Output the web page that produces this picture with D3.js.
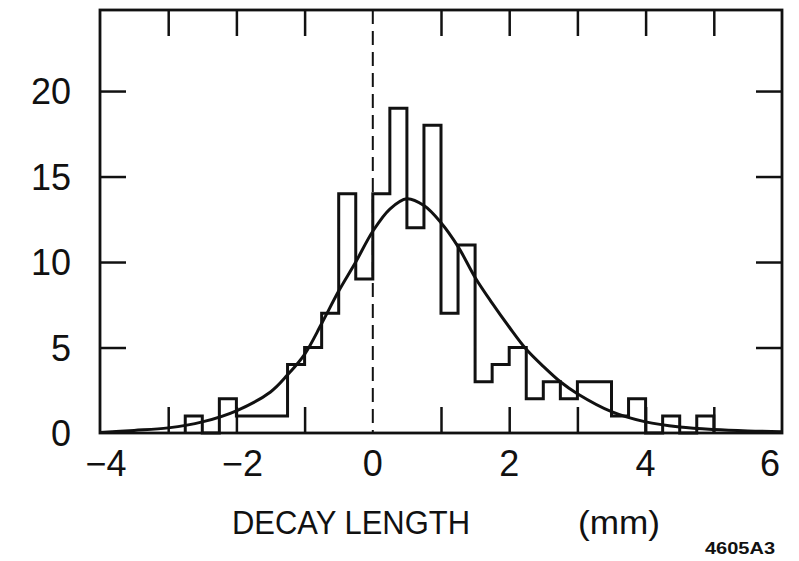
<!DOCTYPE html>
<html>
<head>
<meta charset="utf-8">
<script src="https://cdn.jsdelivr.net/npm/d3@7"></script>
<style>
  body { margin: 0; background: #fff; }
  svg { display: block; }
  text { font-family: "Liberation Sans", Arial, sans-serif; fill: #111; }
</style>
</head>
<body>
<div id="chart"></div>
<script>
// histogram bins (left edge, mm) and counts, bin width 0.25
var binLeft = [-2.75, -2.5, -2.25, -2.0, -1.75, -1.5, -1.25, -1.0, -0.75, -0.5, -0.25,
               0.0, 0.25, 0.5, 0.75, 1.0, 1.25, 1.5, 1.75, 2.0, 2.25, 2.5, 2.75,
               3.0, 3.25, 3.5, 3.75, 4.0, 4.25, 4.5, 4.75]
var counts = [1, 0, 2, 1, 1, 1, 4, 5, 7, 14, 9,
              14, 19, 12, 18, 7, 11, 3, 4, 5, 2, 3, 2,
              3, 3, 1, 2, 0, 1, 0, 1]
var binWidth = 0.25

// fitted curve
var fitX = [-4, -3.5, -3, -2.5, -2, -1.5, -1.25, -1, -0.75, -0.5, -0.25, 0, 0.25, 0.5,
            0.75, 1, 1.25, 1.5, 1.75, 2, 2.25, 2.5, 2.75, 3, 3.5, 4, 4.5, 5, 5.5, 6]
var fitY = [0.03, 0.15, 0.3, 0.65, 1.3, 2.4, 3.4, 4.6, 6.4, 8.3, 10.0, 11.8, 13.1, 13.7,
            13.3, 12.3, 10.9, 9.1, 7.6, 6.2, 4.9, 3.9, 3.0, 2.3, 1.25, 0.65, 0.35, 0.2, 0.12, 0.08]

var xTicks = [-4, -2, 0, 2, 4, 6]
var xMinor = [-3, -2, -1, 1, 2, 3, 4, 5]
var yTicks = [0, 5, 10, 15, 20]

var width = 799, height = 561
var pLeft = 100, pRight = 782, pTop = 10, pBottom = 433

var svg = d3.select(`#chart`).append(`svg`)
    .attr(`width`, width)
    .attr(`height`, height)

var x = d3.scaleLinear().domain([-4, 6]).range([pLeft, pRight])
var y = d3.scaleLinear().domain([0, 24.74]).range([pBottom, pTop])

// inward ticks on all four sides
svg.append(`g`).attr(`transform`, `translate(0,${pBottom})`)
    .call(d3.axisBottom(x).tickValues(xMinor).tickSize(-26).tickFormat(``))
svg.append(`g`).attr(`transform`, `translate(0,${pTop})`)
    .call(d3.axisTop(x).tickValues(xMinor).tickSize(-26).tickFormat(``))
svg.append(`g`).attr(`transform`, `translate(${pLeft},0)`)
    .call(d3.axisLeft(y).tickValues([5, 10, 15, 20]).tickSize(-26).tickFormat(``))
svg.append(`g`).attr(`transform`, `translate(${pRight},0)`)
    .call(d3.axisRight(y).tickValues([5, 10, 15, 20]).tickSize(-26).tickFormat(``))
svg.selectAll(`.domain`).remove()
svg.selectAll(`.tick line`).attr(`stroke`, `#111`).attr(`stroke-width`, 2.5)

// frame
svg.append(`rect`)
    .attr(`x`, pLeft).attr(`y`, pTop)
    .attr(`width`, pRight - pLeft).attr(`height`, pBottom - pTop)
    .attr(`fill`, `none`).attr(`stroke`, `#111`).attr(`stroke-width`, 2.8)

// tick labels
svg.append(`g`).selectAll(`text`).data(xTicks).enter().append(`text`)
    .attr(`x`, function(d){ return x(d) + (d === 6 ? -12 : (d < 0 ? 6 : 0)) })
    .attr(`y`, 476)
    .attr(`text-anchor`, `middle`)
    .attr(`font-size`, 36)
    .text(function(d){ return d < 0 ? `\u2212` + Math.abs(d) : d })

svg.append(`g`).selectAll(`text`).data(yTicks).enter().append(`text`)
    .attr(`x`, 71)
    .attr(`y`, function(d){ return y(d) + 13 })
    .attr(`text-anchor`, `end`)
    .attr(`font-size`, 36)
    .text(function(d){ return d })

// dashed line at zero
svg.append(`line`)
    .attr(`x1`, x(0)).attr(`x2`, x(0))
    .attr(`y1`, pTop).attr(`y2`, pBottom)
    .attr(`stroke`, `#111`).attr(`stroke-width`, 2)
    .attr(`stroke-dasharray`, `14,7`)

// step outline of histogram
var pts = [[binLeft[0], 0]]
for (var i = 0; i < binLeft.length; i++) {
  pts.push([binLeft[i], counts[i]])
  pts.push([binLeft[i] + binWidth, counts[i]])
}
pts.push([binLeft[binLeft.length - 1] + binWidth, 0])

var line = d3.line().x(function(d){ return x(d[0]) }).y(function(d){ return y(d[1]) })

svg.append(`path`)
    .attr(`d`, line(pts))
    .attr(`fill`, `none`).attr(`stroke`, `#111`).attr(`stroke-width`, 3)
    .attr(`stroke-linejoin`, `miter`)

// fit curve
var fitPts = fitX.map(function(v, i){ return [v, fitY[i]] })
svg.append(`path`)
    .attr(`d`, line.curve(d3.curveCatmullRom)(fitPts))
    .attr(`fill`, `none`).attr(`stroke`, `#111`).attr(`stroke-width`, 3)

// axis title
svg.append(`text`)
    .attr(`x`, 232).attr(`y`, 534)
    .attr(`font-size`, 34)
    .attr(`textLength`, 238).attr(`lengthAdjust`, `spacingAndGlyphs`)
    .text(`DECAY LENGTH`)
svg.append(`text`)
    .attr(`x`, 578).attr(`y`, 534)
    .attr(`font-size`, 34)
    .attr(`textLength`, 82).attr(`lengthAdjust`, `spacingAndGlyphs`)
    .text(`(mm)`)

svg.append(`text`)
    .attr(`x`, 705).attr(`y`, 554)
    .attr(`font-size`, 16).attr(`font-weight`, `bold`)
    .attr(`textLength`, 70).attr(`lengthAdjust`, `spacingAndGlyphs`)
    .text(`4605A3`)
</script>
</body>
</html>
